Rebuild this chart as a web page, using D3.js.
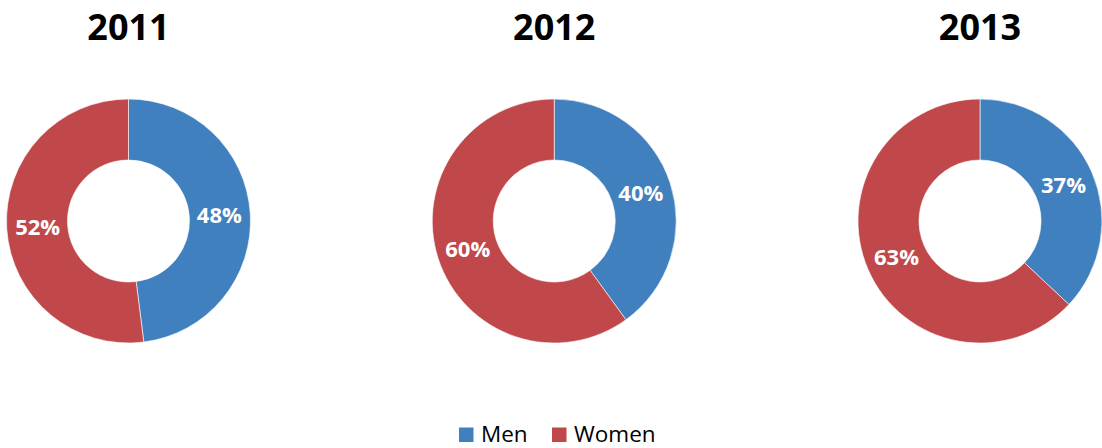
<!DOCTYPE html>
<html><head><meta charset="utf-8">
<script src="https://cdn.jsdelivr.net/npm/d3@7"></script>
<style>html,body{margin:0;padding:0;background:#fff;}svg{display:block;}</style>
</head><body>
<svg id="chart" width="1102" height="448"></svg>
<script>
const years = ["2011", "2012", "2013"];
const categories = ["Men", "Women"];
const menValues = [48, 40, 37];
const womenValues = [52, 60, 63];
const colors = ["#4180BE", "#C0484A"];

const svg = d3.select("#chart");
const centerX = d3.scalePoint().domain(years).range([128.5, 980]);
const cy = 221, outerR = 122, innerR = 61;
const color = d3.scaleOrdinal().domain(categories).range(colors);
const pie = d3.pie().sort(null).value(d => d.value);
const arc = d3.arc().innerRadius(innerR).outerRadius(outerR);
const labelArc = d3.arc().innerRadius(91).outerRadius(91);

years.forEach((yr, i) => {
  const data = [{cat: "Men", value: menValues[i]}, {cat: "Women", value: womenValues[i]}];
  const g = svg.append("g").attr("transform", `translate(${centerX(yr)},${cy})`);
  const arcs = pie(data);
  g.selectAll("path").data(arcs).enter().append("path")
    .attr("d", arc).attr("fill", d => color(d.data.cat))
    .attr("stroke", "#fff").attr("stroke-width", 0.6);
  g.selectAll("text").data(arcs).enter().append("text")
    .attr("transform", d => `translate(${labelArc.centroid(d)})`)
    .attr("text-anchor", "middle").attr("dy", "0.36em")
    .attr("font-family", "'Open Sans', sans-serif").attr("font-weight", "bold")
    .attr("font-size", 22).attr("fill", "#fff")
    .text(d => d.data.value + "%");
  svg.append("text").attr("x", centerX(yr)).attr("y", 39.5)
    .attr("text-anchor", "middle")
    .attr("font-family", "'Open Sans', sans-serif").attr("font-weight", "bold")
    .attr("font-size", 36).attr("fill", "#000").text(yr);
});

// legend
const legend = svg.append("g");
const legendX = [459, 552];
categories.forEach((c, i) => {
  legend.append("rect").attr("x", legendX[i]).attr("y", 427.5).attr("width", 14.5).attr("height", 14.5).attr("fill", color(c));
  legend.append("text").attr("x", legendX[i] + 22).attr("y", 442)
    .attr("font-family", "'Open Sans', sans-serif").attr("font-size", 22.5).attr("fill", "#000").text(c);
});
</script>
</body></html>
